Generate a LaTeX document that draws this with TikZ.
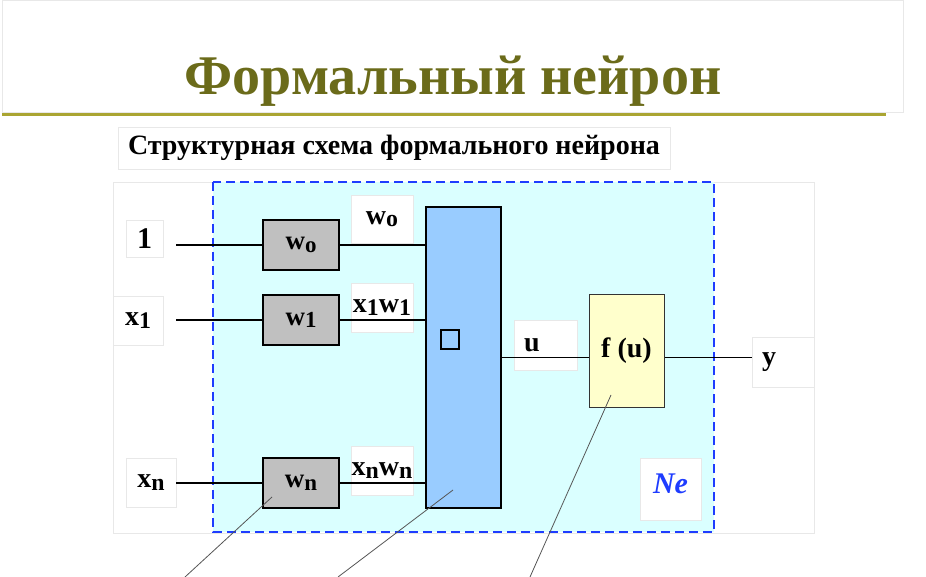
\documentclass[tikz,border=0pt]{standalone}
\usepackage{fontspec}
\setmainfont{Liberation Serif}
\usetikzlibrary{positioning}
\definecolor{titleolive}{RGB}{107,107,26}
\definecolor{ruleolive}{RGB}{170,165,50}
\definecolor{necyan}{RGB}{218,255,255}
\definecolor{neblue}{RGB}{30,60,255}
\definecolor{sumblue}{RGB}{153,204,255}
\definecolor{fyellow}{RGB}{255,255,204}
\definecolor{wgray}{RGB}{192,192,192}
\definecolor{framegray}{RGB}{232,232,232}
\definecolor{leadgray}{RGB}{85,85,85}
\newcommand{\lowidx}[1]{\raisebox{-0.2ex}{\scalebox{0.85}{#1}}}

\begin{document}
\begin{tikzpicture}[
    x=1pt, y=-1pt,
    weight/.style={rectangle, draw=black, fill=wgray, line width=1.2pt,
                   minimum width=76pt, minimum height=50pt,
                   font=\fontsize{27}{29}\selectfont\bfseries},
    lbl/.style={rectangle, draw=framegray, fill=white, inner sep=0pt,
                font=\fontsize{28}{30}\selectfont\bfseries},
    wire/.style={line width=1.4pt, black},
    lead/.style={line width=0.8pt, leadgray}
]
\useasboundingbox (0,0) rectangle (926,577);

% --- Title ---
\draw[framegray] (2,0) rectangle (903,112);
\node[font=\fontsize{56}{60}\selectfont\bfseries, text=titleolive] (title) at (453,81) {Формальный нейрон};
\draw[ruleolive, line width=3pt] (2,115) -- (886,115);

% --- Subtitle ---
\node[lbl, minimum width=552pt, minimum height=42pt] (sub) at (394,148) {Структурная схема формального нейрона};

% --- Frames ---
\draw[framegray] (113,182) rectangle (814,533);
\draw[neblue, line width=1.5pt, dash pattern=on 9pt off 5pt, fill=necyan] (213,182) rectangle (714,532);

% --- Inputs ---
\node[lbl, minimum width=37pt, minimum height=37pt, font=\fontsize{30}{32}\selectfont\bfseries] (one) at (144.5,238.5) {1};
\node[lbl, minimum width=50pt, minimum height=49pt] (xone) at (138,320.5) {x\lowidx{1}};
\node[lbl, minimum width=50pt, minimum height=49pt] (xn) at (151,482.5) {x\lowidx{n}};

% --- Weights ---
\node[weight] (w0) at (301,245) {w\lowidx{o}};
\node[weight] (w1) at (301,320) {w\lowidx{1}};
\node[weight] (wn) at (301,483) {w\lowidx{n}};

\draw[wire, shorten <=13pt] (w0.west -| one.east) -- (w0.west);
\draw[wire, shorten <=13pt] (w1.west -| xone.east) -- (w1.west);
\draw[wire] (wn.west -| xn.east) -- (wn.west);

% --- Adder ---
\node[rectangle, draw=black, fill=sumblue, line width=1.2pt,
      minimum width=75pt, minimum height=301pt] (sum) at (463.5,357.5) {};
\node[rectangle, draw=black, line width=1.2pt, inner sep=0pt,
      minimum width=18pt, minimum height=19pt] (sigma) at (450,339.5) {};

% --- Products ---
\node[lbl, minimum width=62pt, minimum height=48pt] (p0) at (382,219) {w\lowidx{o}};
\node[lbl, minimum width=62pt, minimum height=49pt] (p1) at (382,307.5) {x\lowidx{1}w\lowidx{1}};
\node[lbl, minimum width=62pt, minimum height=49pt] (pn) at (382,470.5) {x\lowidx{n}w\lowidx{n}};

\draw[wire] (w0.east) -- (w0.east -| sum.west);
\draw[wire] (w1.east) -- (w1.east -| sum.west);
\draw[wire] (wn.east) -- (wn.east -| sum.west);

% --- Activation ---
\node[rectangle, draw=black!80, fill=fyellow, line width=1pt,
      minimum width=75pt, minimum height=112pt,
      font=\fontsize{28}{30}\selectfont\bfseries] (f) at (626.5,351) {\raisebox{-8pt}{f (u)}};
\node[lbl, minimum width=63pt, minimum height=50pt, text width=43pt, inner xsep=10pt,
      align=left] (u) at (545.5,345) {u};
\node[lbl, minimum width=62pt, minimum height=50pt, text width=42pt, inner xsep=10pt,
      align=left] (ylab) at (783,362) {y};

\draw[wire] (sum.east) -- (sum.east -| f.west);
\draw[wire] (sum.east -| f.east) -- (sum.east -| ylab.west);

% --- Ne ---
\node[lbl, minimum width=61pt, minimum height=62pt,
      font=\fontsize{30}{32}\selectfont\bfseries\itshape, text=neblue] (ne) at (670.5,489) {\raisebox{10pt}{Ne}};

% --- Leaders ---
\coordinate (wnlead) at (185,577);
\coordinate (sumlead) at (338,577);
\coordinate (flead) at (530,577);
\draw[lead] (wnlead) -- ([shift={(-29,14)}]wn.center);
\draw[lead] (sumlead) -- ([shift={(-10.5,132.5)}]sum.center);
\draw[lead] (flead) -- ([shift={(-15.5,44)}]f.center);

\end{tikzpicture}
\end{document}
